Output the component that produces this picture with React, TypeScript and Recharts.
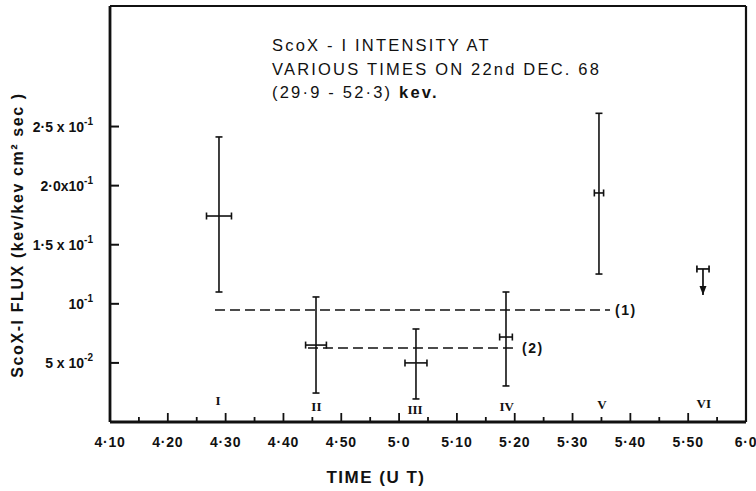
import { ComposedChart, XAxis, YAxis, Scatter, Line, ErrorBar, LabelList } from 'recharts'

// time axis in minutes after 4h00 UT
const xTicks = [10, 15, 20, 25, 30, 35, 40, 45, 50, 55, 60, 65, 70, 75, 80, 85, 90, 95, 100, 105, 110, 115, 120]
const majorTimes = [10, 20, 30, 40, 50, 60, 70, 80, 90, 100, 110, 120]
const majorLabels = ['4·10', '4·20', '4·30', '4·40', '4·50', '5·0', '5·10', '5·20', '5·30', '5·40', '5·50', '6·0']

const yTicks = [0.05, 0.1, 0.15, 0.2, 0.25]
const yMantissa = ['5 x 10', '10', '1·5 x 10', '2·0x10', '2·5 x 10']
const yExponent = ['-2', '-1', '-1', '-1', '-1']

// observations I - V
const obsTime = [28.85, 45.63, 62.92, 78.49, 94.57]
const obsFlux = [0.1743, 0.0651, 0.05, 0.0719, 0.1938]
const fluxLow = [0.11, 0.0245, 0.0195, 0.0305, 0.1252]
const fluxHigh = [0.2412, 0.1058, 0.0787, 0.11, 0.2612]
const timeErr = [2.16, 1.8, 1.9, 1.1, 0.8]

// observation VI, upper limit
const limitTime = 112.56
const limitFlux = 0.1295
const limitTip = 0.1074
const limitTimeErr = 1.05

// mean levels (1) and (2)
const meanLevel = [0.0948, 0.0626]
const meanFrom = [28.16, 44.24]
const meanTo = [96.48, 80.39]
const meanTag = ['(1)', '(2)']

const numerals = ['I', 'II', 'III', 'IV', 'V', 'VI']
const numeralTime = [28.7, 45.7, 62.75, 78.6, 95.1, 112.7]
const numeralFlux = [0.0178, 0.0127, 0.011, 0.0127, 0.0144, 0.016]

const ink = '#111'
const font = '"Liberation Sans", Arial, sans-serif'

const pointData = obsTime.map((t, i) => ({
  t,
  v: obsFlux[i],
  errX: timeErr[i],
  errY: [obsFlux[i] - fluxLow[i], fluxHigh[i] - obsFlux[i]],
}))
const limitData = [{ t: limitTime, v: limitFlux, errX: limitTimeErr, errY: [limitFlux - limitTip, 0] }]
const tipData = [{ t: limitTime, v: limitTip }]
const meanLines = meanLevel.map((v, i) => [
  { t: meanFrom[i], v, tag: '' },
  { t: meanTo[i], v, tag: meanTag[i] },
])
const numeralData = numerals.map((n, i) => ({ t: numeralTime[i], v: numeralFlux[i], n }))

const noMark = () => <g />

const BottomTick = ({ x, y, payload }: any) => {
  const i = majorTimes.indexOf(payload.value)
  const major = i >= 0
  return (
    <g>
      <line x1={x} x2={x} y1={y} y2={y - (major ? 9 : 5)} stroke={ink} strokeWidth={1.8} />
      {major && (
        <text x={x} y={y + 25} textAnchor="middle" fontFamily={font} fontWeight="bold" fontSize={14} letterSpacing={0.8} fill={ink}>
          {majorLabels[i]}
        </text>
      )}
    </g>
  )
}

const TopTick = ({ x, y, payload }: any) => {
  const major = majorTimes.includes(payload.value)
  return <line x1={x} x2={x} y1={y} y2={y + (major ? 9 : 5)} stroke={ink} strokeWidth={1.8} />
}

const LeftTick = ({ x, y, payload }: any) => {
  const i = yTicks.indexOf(payload.value)
  return (
    <g>
      <line x1={x} x2={x + 9} y1={y} y2={y} stroke={ink} strokeWidth={2} />
      <text x={x - 17} y={y + 5} textAnchor="end" fontFamily={font} fontWeight="bold" fontSize={14} fill={ink}>
        {yMantissa[i]}
        <tspan dy={-7} fontSize={10}>{yExponent[i]}</tspan>
      </text>
    </g>
  )
}

const RightTick = ({ x, y }: any) => (
  <line x1={x} x2={x - 9} y1={y} y2={y} stroke={ink} strokeWidth={2} />
)

const NumeralMark = ({ cx, cy, payload }: any) => (
  <text x={cx} y={cy} textAnchor="middle" dominantBaseline="central" fontFamily='"Liberation Serif", serif' fontWeight="bold" fontSize={13} fill={ink}>
    {payload.n}
  </text>
)

const ArrowHead = ({ cx, cy }: any) => (
  <path d={`M${cx - 3.5},${cy - 9} L${cx + 3.5},${cy - 9} L${cx},${cy} Z`} fill={ink} />
)

const MeanTag = ({ x, y, value }: any) =>
  value ? (
    <text x={x + 5} y={y} dominantBaseline="central" fontFamily={font} fontWeight="bold" fontSize={14} letterSpacing={1.5} fill={ink}>
      {value}
    </text>
  ) : null

export default function App() {
  return (
    <div style={{ position: 'absolute', left: 0, top: 0, background: '#fff' }}>
      <ComposedChart width={756} height={491} margin={{ top: 0, right: 0, bottom: 0, left: 0 }}>
        <XAxis
          xAxisId="b"
          dataKey="t"
          type="number"
          domain={[10, 120]}
          ticks={xTicks}
          interval={0}
          allowDataOverflow
          height={69}
          tickSize={0}
          tickMargin={0}
          tickLine={false}
          tick={(p: any) => <BottomTick {...p} />}
          axisLine={{ stroke: ink, strokeWidth: 2.8 }}
        />
        <XAxis
          xAxisId="t"
          orientation="top"
          dataKey="t"
          type="number"
          domain={[10, 120]}
          ticks={xTicks}
          interval={0}
          height={6}
          tickSize={0}
          tickMargin={0}
          tickLine={false}
          tick={(p: any) => <TopTick {...p} />}
          axisLine={{ stroke: ink, strokeWidth: 1.8 }}
        />
        <YAxis
          yAxisId="l"
          type="number"
          domain={[0, 0.352]}
          ticks={yTicks}
          interval={0}
          allowDataOverflow
          width={110}
          tickSize={0}
          tickMargin={0}
          tickLine={false}
          tick={(p: any) => <LeftTick {...p} />}
          axisLine={{ stroke: ink, strokeWidth: 2.8 }}
        />
        <YAxis
          yAxisId="r"
          orientation="right"
          type="number"
          domain={[0, 0.352]}
          ticks={yTicks}
          interval={0}
          width={10}
          tickSize={0}
          tickMargin={0}
          tickLine={false}
          tick={(p: any) => <RightTick {...p} />}
          axisLine={{ stroke: ink, strokeWidth: 2.2 }}
        />

        {meanLines.map((d, i) => (
          <Line
            key={meanTag[i]}
            xAxisId="b"
            yAxisId="l"
            data={d}
            dataKey="v"
            stroke={ink}
            strokeWidth={1.5}
            strokeDasharray="10 5"
            dot={false}
            activeDot={false}
            isAnimationActive={false}
          >
            <LabelList dataKey="tag" content={(p: any) => <MeanTag {...p} />} />
          </Line>
        ))}

        <Scatter xAxisId="b" yAxisId="l" data={pointData} dataKey="v" shape={noMark} isAnimationActive={false}>
          <ErrorBar dataKey="errY" direction="y" width={3.5} stroke={ink} strokeWidth={1.6} isAnimationActive={false} />
          <ErrorBar dataKey="errX" direction="x" width={3.5} stroke={ink} strokeWidth={1.6} isAnimationActive={false} />
        </Scatter>
        <Scatter xAxisId="b" yAxisId="l" data={limitData} dataKey="v" shape={noMark} isAnimationActive={false}>
          <ErrorBar dataKey="errY" direction="y" width={0} stroke={ink} strokeWidth={1.7} isAnimationActive={false} />
          <ErrorBar dataKey="errX" direction="x" width={3.5} stroke={ink} strokeWidth={1.7} isAnimationActive={false} />
        </Scatter>
        <Scatter xAxisId="b" yAxisId="l" data={tipData} dataKey="v" shape={(p: any) => <ArrowHead {...p} />} isAnimationActive={false} />
        <Scatter xAxisId="b" yAxisId="l" data={numeralData} dataKey="v" shape={(p: any) => <NumeralMark {...p} />} isAnimationActive={false} />

        <text fontFamily={font} fontSize={16.5} letterSpacing={2.2} fill={ink}>
          <tspan x={272} y={51}>ScoX - I  INTENSITY AT</tspan>
          <tspan x={272} y={75}>VARIOUS TIMES ON 22nd DEC. 68</tspan>
          <tspan x={272} y={98}>
            (29·9 - 52·3) <tspan fontWeight="bold">kev.</tspan>
          </tspan>
        </text>
        <text
          transform="translate(23,235) rotate(-90)"
          textAnchor="middle"
          fontFamily={font}
          fontWeight="bold"
          fontSize={16}
          letterSpacing={1.6}
          fill={ink}
        >
          ScoX-I FLUX (kev/kev cm² sec )
        </text>
        <text x={376} y={483} textAnchor="middle" fontFamily={font} fontWeight="bold" fontSize={17} letterSpacing={1.5} fill={ink}>
          TIME  (U T)
        </text>
      </ComposedChart>
    </div>
  )
}
